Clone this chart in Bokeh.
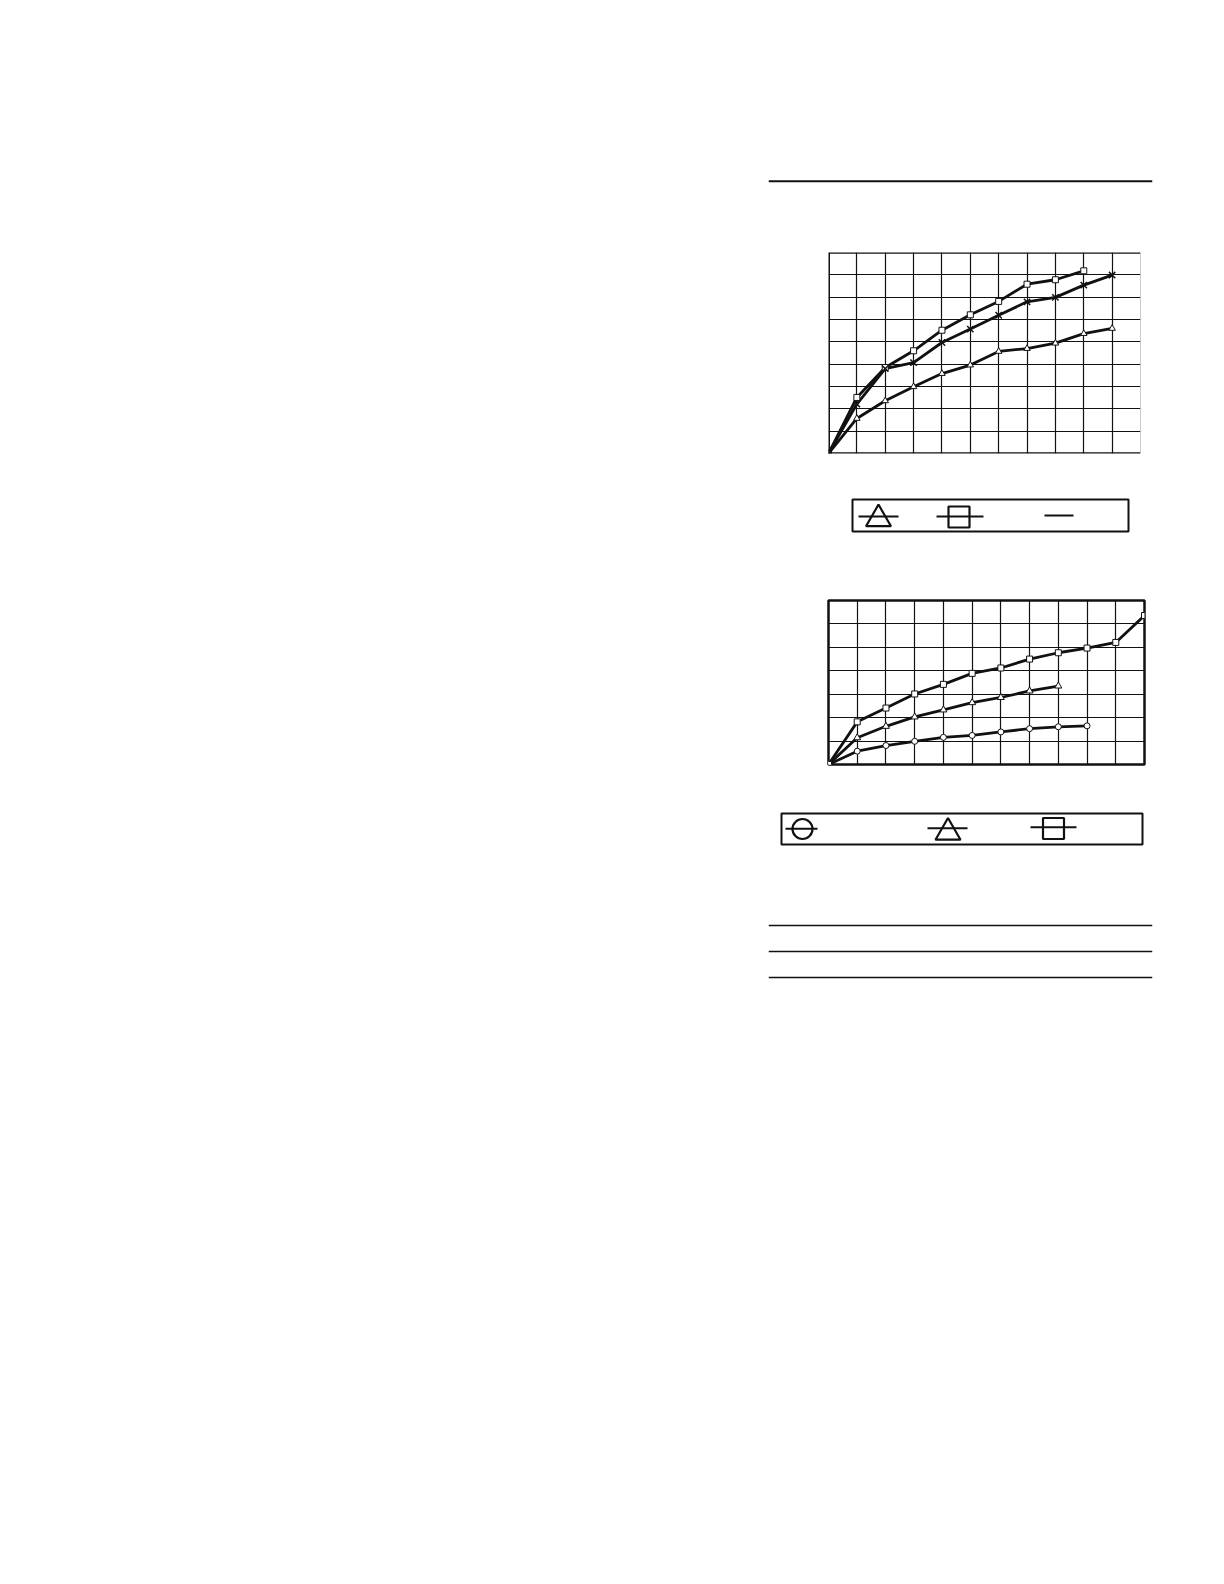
from bokeh.plotting import figure
from bokeh.models import Range1d, Span, FixedTicker, Spacer
from bokeh.layouts import row, column
from bokeh.embed import file_html
from bokeh.resources import INLINE

# ---------------- data (grid units; tick labels are absent in the source) ----------------
# Chart 1
c1_sq_x = [0, 1, 2, 3, 4, 5, 6, 7, 8, 9]
c1_sq_y = [0, 2.51, 3.85, 4.60, 5.52, 6.21, 6.81, 7.58, 7.78, 8.18]
c1_x_x = [0, 1, 2, 3, 4, 5, 6, 7, 8, 9, 10]
c1_x_y = [0, 2.21, 3.80, 4.07, 4.97, 5.57, 6.19, 6.79, 6.99, 7.54, 7.99]
c1_tri_x = [0, 1, 2, 3, 4, 5, 6, 7, 8, 9, 10]
c1_tri_y = [0, 1.57, 2.36, 2.99, 3.58, 3.96, 4.57, 4.70, 4.94, 5.37, 5.60]
c1_xticks = list(range(0, 12))
c1_yticks = list(range(0, 10))

# Chart 2
c2_sq_x = [0, 1, 2, 3, 4, 5, 6, 7, 8, 9, 10, 11]
c2_sq_y = [0, 1.82, 2.41, 3.01, 3.42, 3.89, 4.12, 4.50, 4.77, 4.97, 5.21, 6.36]
c2_tri_x = [0, 1, 2, 3, 4, 5, 6, 7, 8]
c2_tri_y = [0, 1.14, 1.63, 2.03, 2.33, 2.64, 2.86, 3.14, 3.35]
c2_circ_x = [0, 1, 2, 3, 4, 5, 6, 7, 8, 9]
c2_circ_y = [0, 0.57, 0.81, 0.99, 1.16, 1.24, 1.39, 1.53, 1.61, 1.65]
c2_xticks = list(range(0, 12))
c2_yticks = list(range(0, 8))

INK = "#111111"
B = 4  # uniform border around every figure


def base_fig(frame_w, frame_h, xr, yr):
    p = figure(frame_width=frame_w, frame_height=frame_h, x_range=xr, y_range=yr,
               output_backend="svg", toolbar_location=None,
               min_border_left=B, min_border_right=B,
               min_border_top=B, min_border_bottom=B)
    p.xaxis.visible = False
    p.yaxis.visible = False
    p.xgrid.visible = False
    p.ygrid.visible = False
    p.outline_line_color = None
    p.background_fill_color = "white"
    p.border_fill_color = "white"
    return p


def placed(x_left, fig):
    return row(Spacer(width=x_left - B, height=1), fig)


def vgap(h):
    return Spacer(width=1, height=h)


# ---------------- top rule ----------------
top_rule = base_fig(384, 4, Range1d(0, 384), Range1d(0, 4))
top_rule.add_layout(Span(location=2.3, dimension="width", line_color=INK, line_width=2))

# ---------------- chart 1 ----------------
p1 = base_fig(312, 201, Range1d(0, 11), Range1d(0, 9))
p1.xgrid.visible = True
p1.ygrid.visible = True
p1.xgrid.ticker = FixedTicker(ticks=c1_xticks)
p1.ygrid.ticker = FixedTicker(ticks=c1_yticks)
p1.grid.grid_line_color = INK
p1.grid.grid_line_width = 1.2
p1.add_layout(Span(location=0, dimension="height", line_color=INK, line_width=3))
p1.add_layout(Span(location=0, dimension="width", line_color=INK, line_width=2.5))
p1.add_layout(Span(location=9, dimension="width", line_color=INK, line_width=2.5))
p1.add_layout(Span(location=11, dimension="height", line_color="#9a9a9a", line_width=1))

p1.line(c1_tri_x, c1_tri_y, line_color=INK, line_width=2.8)
p1.line(c1_x_x, c1_x_y, line_color=INK, line_width=2.8)
p1.line(c1_sq_x, c1_sq_y, line_color=INK, line_width=2.8)
p1.scatter(c1_tri_x, c1_tri_y, marker="triangle", size=6.5, fill_color="white", line_color=INK, line_width=1)
p1.scatter(c1_sq_x, c1_sq_y, marker="square", size=6, fill_color="white", line_color=INK, line_width=1)
p1.scatter(c1_x_x, c1_x_y, marker="x", size=9, line_color=INK, line_width=1.5)

# ---------------- legend 1 ----------------
l1 = base_fig(276, 32, Range1d(0, 276), Range1d(0, 32))
l1.outline_line_color = INK
l1.outline_line_width = 2
l1.segment(x0=[6], y0=[15], x1=[46], y1=[15], line_color=INK, line_width=2)
l1.scatter(x=[26], y=[12.5], marker="triangle", size=25, fill_color=None, line_color=INK, line_width=2.2)
l1.segment(x0=[84], y0=[15], x1=[131], y1=[15], line_color=INK, line_width=2)
l1.scatter(x=[106.5], y=[14.5], marker="square", size=21, fill_color=None, line_color=INK, line_width=2.2)
l1.segment(x0=[192], y0=[16], x1=[221], y1=[16], line_color=INK, line_width=2)

# ---------------- chart 2 ----------------
p2 = base_fig(316, 164, Range1d(0, 11), Range1d(0, 7))
p2.xgrid.visible = True
p2.ygrid.visible = True
p2.xgrid.ticker = FixedTicker(ticks=c2_xticks)
p2.ygrid.ticker = FixedTicker(ticks=c2_yticks)
p2.grid.grid_line_color = INK
p2.grid.grid_line_width = 1.2
p2.outline_line_color = INK
p2.outline_line_width = 2.5

p2.line(c2_circ_x, c2_circ_y, line_color=INK, line_width=2.8)
p2.line(c2_tri_x, c2_tri_y, line_color=INK, line_width=2.8)
p2.line(c2_sq_x, c2_sq_y, line_color=INK, line_width=2.8)
p2.scatter(c2_circ_x, c2_circ_y, marker="circle", size=6, fill_color="white", line_color=INK, line_width=1)
p2.scatter(c2_tri_x, c2_tri_y, marker="triangle", size=7, fill_color="white", line_color=INK, line_width=1)
p2.scatter(c2_sq_x, c2_sq_y, marker="square", size=6, fill_color="white", line_color=INK, line_width=1)

# ---------------- legend 2 ----------------
l2 = base_fig(361, 31, Range1d(0, 361), Range1d(0, 31))
l2.outline_line_color = INK
l2.outline_line_width = 2
l2.scatter(x=[21], y=[15.5], marker="circle", size=20, fill_color=None, line_color=INK, line_width=2.2)
l2.segment(x0=[4], y0=[15.7], x1=[36], y1=[15.7], line_color=INK, line_width=2)
l2.scatter(x=[166.5], y=[12], marker="triangle", size=25, fill_color=None, line_color=INK, line_width=2.2)
l2.segment(x0=[146], y0=[16.3], x1=[186], y1=[16.3], line_color=INK, line_width=2)
l2.scatter(x=[272], y=[16], marker="square", size=21, fill_color=None, line_color=INK, line_width=2.2)
l2.segment(x0=[249], y0=[17.3], x1=[295], y1=[17.3], line_color=INK, line_width=2)

# ---------------- bottom rules ----------------
rules = base_fig(384, 62, Range1d(0, 384), Range1d(976, 914))
for loc in (920.0, 946.0, 972.0):
    rules.add_layout(Span(location=loc, dimension="width", line_color=INK, line_width=1.3))

layout = column(
    vgap(175),
    placed(768, top_rule),
    vgap(61),
    placed(828, p1),
    vgap(38),
    placed(852, l1),
    vgap(61),
    placed(828, p2),
    vgap(41),
    placed(781, l2),
    vgap(67),
    placed(768, rules),
)

open("out.html", "w").write(file_html(layout, INLINE))
